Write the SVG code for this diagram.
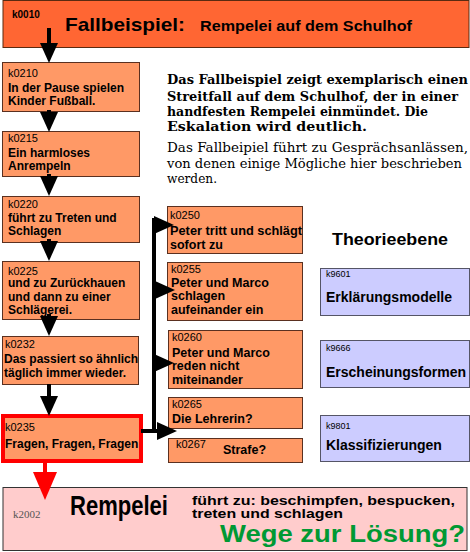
<svg xmlns="http://www.w3.org/2000/svg" width="470" height="552" viewBox="0 0 470 552">
<style>
.sans{font-family:"Liberation Sans",Arial,sans-serif;fill:#000}
.b{font-weight:bold}
.lbl{font-family:"Liberation Sans",Arial,sans-serif;font-size:11px;fill:#000}
.t12{font-family:"Liberation Sans",Arial,sans-serif;font-size:12px;font-weight:bold;fill:#000}
.t13{font-family:"Liberation Sans",Arial,sans-serif;font-size:12.5px;font-weight:bold;fill:#000}
.orange{fill:#FF9966;stroke:#5a3020;stroke-width:1}
.blue{fill:#CCCCFF;stroke:#555566;stroke-width:1}
.serif{font-family:"DejaVu Serif","Liberation Serif",serif;font-size:12.5px;fill:#000}
.con{fill:none;stroke:#000;stroke-width:4}
</style>
<defs>
<marker id="ah" markerUnits="userSpaceOnUse" markerWidth="20" markerHeight="18" viewBox="0 0 20 18" refX="0" refY="9" orient="auto"><path d="M0,0 L20,9 L0,18 z" fill="#000"/></marker>
<marker id="ahr" markerUnits="userSpaceOnUse" markerWidth="28" markerHeight="24" viewBox="0 0 28 24" refX="0" refY="12" orient="auto"><path d="M0,0 L28,12 L0,24 z" fill="#FF0000"/></marker>
</defs>

<g id="k0010">
<rect x="3" y="0.5" width="466" height="47" fill="#FF6633" stroke="#5a2a10" stroke-width="1"/>
<text class="sans b" x="12" y="18" font-size="10">k0010</text>
<text class="sans b" x="65" y="31" font-size="19" textLength="120" lengthAdjust="spacingAndGlyphs">Fallbeispiel:</text>
<text class="sans b" x="200" y="31" font-size="14" textLength="212" lengthAdjust="spacingAndGlyphs">Rempelei auf dem Schulhof</text>
</g>

<g id="intro">
<text class="serif" font-weight="bold" x="167" y="84" textLength="301" lengthAdjust="spacingAndGlyphs">Das Fallbeispiel zeigt exemplarisch einen</text>
<text class="serif" font-weight="bold" x="167" y="100.5" textLength="291" lengthAdjust="spacingAndGlyphs">Streitfall auf dem Schulhof, der in einer</text>
<text class="serif" font-weight="bold" x="167" y="116" textLength="261" lengthAdjust="spacingAndGlyphs">handfesten Rempelei einmündet. Die</text>
<text class="serif" font-weight="bold" x="167" y="131" textLength="200" lengthAdjust="spacingAndGlyphs">Eskalation wird deutlich.</text>
<text class="serif" x="167" y="152" textLength="301" lengthAdjust="spacingAndGlyphs">Das Fallbeipiel führt zu Gesprächsanlässen,</text>
<text class="serif" x="167" y="167.5" textLength="295" lengthAdjust="spacingAndGlyphs">von denen einige Mögliche hier beschrieben</text>
<text class="serif" x="167" y="183" textLength="50" lengthAdjust="spacingAndGlyphs">werden.</text>
</g>

<g id="k0210">
<rect class="orange" x="2.5" y="62.5" width="137" height="49"/>
<text class="lbl" x="8" y="77">k0210</text>
<text class="t12" x="8" y="92">In der Pause spielen</text>
<text class="t12" x="8" y="105">Kinder Fußball.</text>
</g>
<g id="k0215">
<rect class="orange" x="2.5" y="131.5" width="137" height="45"/>
<text class="lbl" x="8" y="142">k0215</text>
<text class="t12" x="8" y="157">Ein harmloses</text>
<text class="t12" x="8" y="170">Anrempeln</text>
</g>
<g id="k0220">
<rect class="orange" x="2.5" y="196.5" width="137" height="46"/>
<text class="lbl" x="8" y="208">k0220</text>
<text class="t12" x="8" y="222">führt zu Treten und</text>
<text class="t12" x="8" y="235">Schlagen</text>
</g>
<g id="k0225">
<rect class="orange" x="2.5" y="261.5" width="137" height="58"/>
<text class="lbl" x="8" y="275">k0225</text>
<text class="t12" x="8" y="287">und zu Zurückhauen</text>
<text class="t12" x="8" y="301">und dann zu einer</text>
<text class="t12" x="8" y="314">Schlägerei.</text>
</g>
<g id="k0232">
<rect class="orange" x="2.5" y="336.5" width="136" height="48"/>
<text class="lbl" x="5" y="348">k0232</text>
<text class="t12" x="4" y="363">Das passiert so ähnlich</text>
<text class="t12" x="4" y="377">täglich immer wieder.</text>
</g>
<g id="k0235">
<rect x="3" y="416" width="138" height="45" fill="#FF9966" stroke="#FF0000" stroke-width="4"/>
<text class="lbl" x="5" y="431">k0235</text>
<text class="t12" x="5" y="448">Fragen, Fragen, Fragen</text>
</g>

<g id="k0250">
<rect class="orange" x="167.5" y="206.5" width="135" height="47"/>
<text class="lbl" x="170" y="219">k0250</text>
<text class="t13" x="170" y="234.5" textLength="132" lengthAdjust="spacingAndGlyphs">Peter tritt und schlägt</text>
<text class="t13" x="170" y="248.5">sofort zu</text>
</g>
<g id="k0255">
<rect class="orange" x="167.5" y="262.5" width="135" height="58"/>
<text class="lbl" x="171" y="273">k0255</text>
<text class="t13" x="171" y="286.5">Peter und Marco</text>
<text class="t13" x="171" y="300">schlagen</text>
<text class="t13" x="171" y="313.5">aufeinander ein</text>
</g>
<g id="k0260">
<rect class="orange" x="168.5" y="330.5" width="134" height="58"/>
<text class="lbl" x="172" y="341">k0260</text>
<text class="t13" x="172" y="356.5">Peter und Marco</text>
<text class="t13" x="172" y="370">reden nicht</text>
<text class="t13" x="172" y="383.5">miteinander</text>
</g>
<g id="k0265">
<rect class="orange" x="168.5" y="397.5" width="134" height="31"/>
<text class="lbl" x="172" y="408">k0265</text>
<text class="t13" x="172" y="423">Die Lehrerin?</text>
</g>
<g id="k0267">
<rect class="orange" x="168.5" y="438.5" width="134" height="24"/>
<text class="lbl" x="176" y="448">k0267</text>
<text class="t13" x="223" y="454">Strafe?</text>
</g>

<g id="theorieebene">
<text class="sans b" x="332" y="245" font-size="16" textLength="116" lengthAdjust="spacingAndGlyphs">Theorieebene</text>
</g>
<g id="k9601">
<rect class="blue" x="320.5" y="268.5" width="149" height="47"/>
<text class="sans" x="326" y="277" font-size="9">k9601</text>
<text class="sans b" x="326" y="302" font-size="14">Erklärungsmodelle</text>
</g>
<g id="k9666">
<rect class="blue" x="320.5" y="340.5" width="149" height="47"/>
<text class="sans" x="326" y="351" font-size="9">k9666</text>
<text class="sans b" x="326" y="377" font-size="14" textLength="140" lengthAdjust="spacingAndGlyphs">Erscheinungsformen</text>
</g>
<g id="k9801">
<rect class="blue" x="320.5" y="415.5" width="149" height="46"/>
<text class="sans" x="326" y="429" font-size="9">k9801</text>
<text class="sans b" x="326" y="450" font-size="14">Klassifizierungen</text>
</g>

<g id="k2002">
<rect x="3" y="487.5" width="464" height="63" fill="#FFCCCC" stroke="#333" stroke-width="1"/>
<text x="13" y="518" font-family="'Liberation Serif',serif" font-size="11" fill="#555">k2002</text>
<text class="sans b" x="70" y="515" font-size="28" textLength="98" lengthAdjust="spacingAndGlyphs">Rempelei</text>
<text class="sans b" x="192" y="505" font-size="12" textLength="263" lengthAdjust="spacingAndGlyphs">führt zu: beschimpfen, bespucken,</text>
<text class="sans b" x="192" y="518" font-size="12" textLength="151" lengthAdjust="spacingAndGlyphs">treten und schlagen</text>
<text x="220" y="542" font-family="'Liberation Sans',Arial,sans-serif" font-weight="bold" font-size="23" fill="#009933" textLength="245" lengthAdjust="spacingAndGlyphs">Wege zur Lösung?</text>
</g>

<g id="connectors">
<path class="con" d="M49,28 V43" marker-end="url(#ah)"/>
<path class="con" d="M49,110 V112" marker-end="url(#ah)"/>
<path class="con" d="M49,174 V176" marker-end="url(#ah)"/>
<path class="con" d="M49,239 V241" marker-end="url(#ah)"/>
<path class="con" d="M49,314 V316" marker-end="url(#ah)"/>
<path class="con" d="M49,384 V396" marker-end="url(#ah)"/>
<path class="con" d="M154,433 V218"/>
<path class="con" d="M152,225 H154" marker-end="url(#ah)"/>
<path class="con" d="M152,290 H155" marker-end="url(#ah)"/>
<path class="con" d="M152,363 H154" marker-end="url(#ah)"/>
<path class="con" d="M141,431 H157" marker-end="url(#ah)"/>
<path d="M45,462 V472" fill="none" stroke="#FF0000" stroke-width="4" marker-end="url(#ahr)"/>
</g>
</svg>
